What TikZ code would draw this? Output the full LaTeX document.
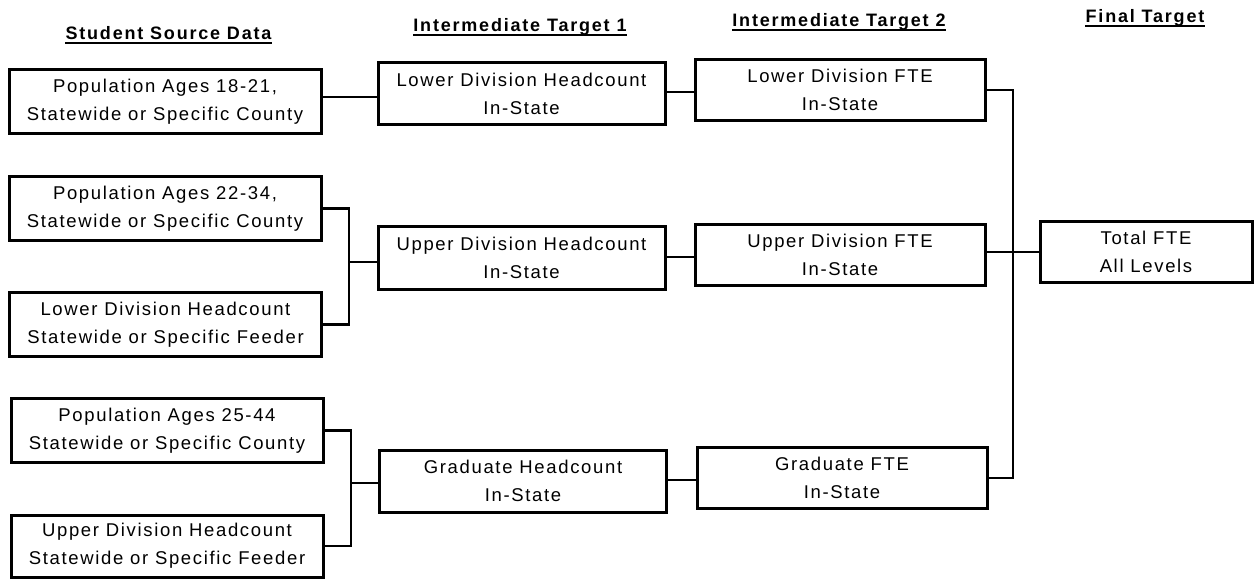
\documentclass[tikz,border=0pt]{standalone}
\usepackage{fontspec}
\newfontfamily\boxfont{Liberation Sans}[LetterSpace=9]
\newfontfamily\headfont{Liberation Sans}[LetterSpace=10]
\begin{document}
\begin{tikzpicture}[x=1pt,y=-1pt,
  box/.style={draw, line width=3pt, inner sep=0pt, align=center, font=\boxfont\fontsize{18.5}{28}\selectfont},
  src/.style={box, minimum width=312pt, minimum height=64pt},
  mid/.style={box, minimum width=287pt, minimum height=62pt},
  tgt/.style={box, minimum width=290pt, minimum height=61pt},
  fin/.style={box, minimum width=212pt, minimum height=60pt},
  head/.style={inner sep=0pt, anchor=base, font=\headfont\bfseries\fontsize{18}{20}\selectfont},
  link/.style={line width=2.8pt},
  uline/.style={line width=1.8pt}]
\useasboundingbox (0,0) rectangle (1256,580);

% headers
\node[head] (H1) at (168.5,40) {Student Source Data};
\node[head] (H2) at (520,32) {Intermediate Target 1};
\node[head] (H3) at (839,27) {Intermediate Target 2};
\node[head] (H4) at (1145,23) {Final Target};
\foreach \h in {H1,H2,H3,H4}
  \draw[uline] ([yshift=-2.8pt]\h.base west) -- ([yshift=-2.8pt]\h.base east);

% source boxes
\node[src] (S1) at (165,102) {Population Ages 18-21,\\Statewide or Specific County};
\node[src] (S2) at (165,208.5) {Population Ages 22-34,\\Statewide or Specific County};
\node[src] (S3) at (165.5,324.5) {Lower Division Headcount\\Statewide or Specific Feeder};
\node[src] (S4) at (167,430.5) {Population Ages 25-44\\Statewide or Specific County};
\node[src, minimum height=62pt] (S5) at (167,546) {Upper Division Headcount\\Statewide or Specific Feeder};

% intermediate 1
\node[mid] (M1) at (521.5,94) {Lower Division Headcount\\In-State};
\node[mid] (M2) at (521.5,258) {Upper Division Headcount\\In-State};
\node[mid] (M3) at (523,481) {Graduate Headcount\\In-State};

% intermediate 2
\node[tgt] (R1) at (840,90) {Lower Division FTE\\In-State};
\node[tgt] (R2) at (840,255) {Upper Division FTE\\In-State};
\node[tgt] (R3) at (842,478) {Graduate FTE\\In-State};

% final
\node[fin] (T) at (1146,252) {Total FTE\\All Levels};

% connectors
\coordinate (j1) at ([yshift=5pt]S1.east);
\draw[link] (j1) -- (j1 -| M1.west);

\coordinate (f1) at (349,262);
\draw[link] (S2.east) -| (f1) |- (S3.east);
\draw[link] (f1) -- (f1 -| M2.west);

\coordinate (f2) at (351,483);
\draw[link] (S4.east) -| (f2) |- (S5.east);
\draw[link] (f2) -- (f2 -| M3.west);

\coordinate (j2) at ([yshift=2pt]M1.east);
\draw[link] (j2) -- (j2 -| R1.west);
\coordinate (j3) at ([yshift=1pt]M2.east);
\draw[link] (j3) -- (j3 -| R2.west);
\coordinate (j4) at ([yshift=1pt]M3.east);
\draw[link] (j4) -- (j4 -| R3.west);

\coordinate (f3) at (1013,252);
\draw[link] (R1.east) -| (f3) |- (R3.east);
\draw[link] (T.west) -- (T.west -| R2.east);
\end{tikzpicture}
\end{document}
